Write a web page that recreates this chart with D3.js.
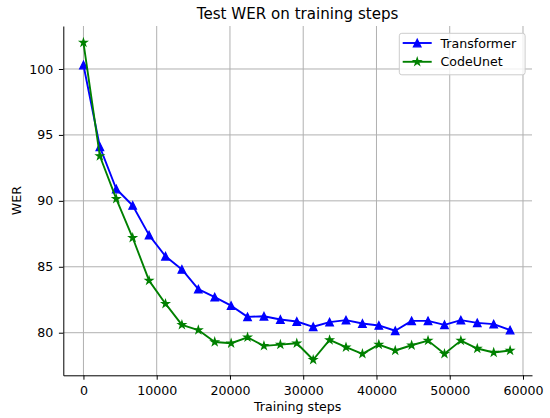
<!DOCTYPE html>
<html>
<head>
<meta charset="utf-8">
<script src="https://cdn.jsdelivr.net/npm/d3@7"></script>
<style>
  body { margin: 0; background: #fff; }
  svg { display: block; font-family: "DejaVu Sans", sans-serif; }
</style>
</head>
<body>
<div id="chart"></div>
<script>
// training steps (x) and WER readings per model
const steps = [0, 2240, 4480, 6720, 8960, 11200, 13440, 15680, 17920, 20160, 22400, 24640, 26880, 29120,
  31360, 33600, 35840, 38080, 40320, 42560, 44800, 47040, 49280, 51520, 53760, 56000, 58240];
const transformer = [100.3, 94.1, 90.9, 89.65, 87.4, 85.8, 84.8, 83.3, 82.7, 82.05, 81.2, 81.25, 81.0, 80.85,
  80.45, 80.8, 80.95, 80.7, 80.55, 80.15, 80.9, 80.9, 80.6, 80.95, 80.75, 80.65, 80.2];
const codeUnet = [102.0, 93.4, 90.15, 87.2, 83.95, 82.2, 80.6, 80.2, 79.3, 79.2, 79.65, 79.0, 79.1, 79.2,
  77.95, 79.45, 78.9, 78.4, 79.1, 78.65, 79.05, 79.4, 78.4, 79.4, 78.8, 78.5, 78.65];
const seriesNames = ['Transformer', 'CodeUnet'];
const xTicks = [0, 10000, 20000, 30000, 40000, 50000, 60000];
const yTicks = [80, 85, 90, 95, 100];

const W = 550, H = 418;
const plot = { left: 63.3, right: 532, top: 26, bottom: 375.3 };

const svg = d3.select('#chart').append('svg')
  .attr('width', W)
  .attr('height', H);

// --- Scales ---
const x = d3.scaleLinear().domain([-2750, 61230]).range([plot.left, plot.right]);
const y = d3.scaleLinear().domain([76.77, 103.26]).range([plot.bottom, plot.top]);

// --- Gridlines ---
const grid = svg.append('g').attr('stroke', '#b0b0b0').attr('stroke-width', 1);
grid.selectAll('.vg').data(xTicks).enter().append('line')
  .attr('x1', d => x(d)).attr('x2', d => x(d))
  .attr('y1', plot.top).attr('y2', plot.bottom);
grid.selectAll('.hg').data(yTicks).enter().append('line')
  .attr('x1', plot.left).attr('x2', plot.right)
  .attr('y1', d => y(d)).attr('y2', d => y(d));

// --- Axes ---
const xAxis = svg.append('g')
  .attr('transform', `translate(0,${plot.bottom})`)
  .call(d3.axisBottom(x).tickValues(xTicks).tickSize(4.4).tickSizeOuter(0).tickPadding(6.3).tickFormat(d3.format('d')));
const yAxis = svg.append('g')
  .attr('transform', `translate(${plot.left},0)`)
  .call(d3.axisLeft(y).tickValues(yTicks).tickSize(4.4).tickSizeOuter(0).tickPadding(5.6));

[xAxis, yAxis].forEach(a => {
  a.attr('font-family', null).attr('font-size', null);
  a.selectAll('path, line').attr('stroke', '#000').attr('stroke-width', 1);
  a.selectAll('text').attr('fill', '#000').style('font-size', '12.6px');
});

// --- Markers ---
const r = 3.78;
function trianglePath(s) {
  return `M0,${-s}L${-s},${s}L${s},${s}Z`;
}
function starPath(s) {
  const inner = s * 0.381966;
  let p = '';
  for (let i = 0; i < 10; i++) {
    const rad = i % 2 === 0 ? s : inner;
    const a = -Math.PI / 2 + i * Math.PI / 5;
    p += (i === 0 ? 'M' : 'L') + (rad * Math.cos(a)).toFixed(2) + ',' + (rad * Math.sin(a)).toFixed(2);
  }
  return p + 'Z';
}

const series = [
  { name: seriesNames[0], values: transformer, color: '#0000ff', marker: trianglePath(r) },
  { name: seriesNames[1], values: codeUnet, color: '#008000', marker: starPath(r) },
];

const line = d3.line()
  .x((d, i) => x(steps[i]))
  .y(d => y(d));

series.forEach(s => {
  const g = svg.append('g');
  g.append('path')
    .datum(s.values)
    .attr('fill', 'none')
    .attr('stroke', s.color)
    .attr('stroke-width', 1.89)
    .attr('stroke-linejoin', 'round')
    .attr('d', line);
  g.selectAll('.m').data(s.values).enter().append('path')
    .attr('transform', (d, i) => `translate(${x(steps[i])},${y(d)})`)
    .attr('d', s.marker)
    .attr('fill', s.color)
    .attr('stroke', s.color)
    .attr('stroke-width', 1.26)
    .attr('stroke-linejoin', 'miter');
});

// --- Title & labels ---
svg.append('text')
  .attr('x', (plot.left + plot.right) / 2).attr('y', 18.5)
  .attr('text-anchor', 'middle')
  .style('font-size', '15.1px')
  .text('Test WER on training steps');

svg.append('text')
  .attr('x', (plot.left + plot.right) / 2).attr('y', 411)
  .attr('text-anchor', 'middle')
  .style('font-size', '12.6px')
  .text('Training steps');

svg.append('text')
  .attr('transform', `translate(20.7,${(plot.top + plot.bottom) / 2}) rotate(-90)`)
  .attr('text-anchor', 'middle')
  .style('font-size', '12.6px')
  .text('WER');

// --- Legend ---
const legend = svg.append('g');
legend.append('rect')
  .attr('x', 399.3).attr('y', 33.3)
  .attr('width', 125.8).attr('height', 41.5)
  .attr('rx', 2.5)
  .attr('fill', '#fff').attr('fill-opacity', 0.8)
  .attr('stroke', '#cccccc').attr('stroke-width', 1);

series.forEach((s, i) => {
  const cy = 43 + i * 18.8;
  legend.append('line')
    .attr('x1', 402.7).attr('x2', 431.7)
    .attr('y1', cy).attr('y2', cy)
    .attr('stroke', s.color).attr('stroke-width', 1.89);
  legend.append('path')
    .attr('transform', `translate(417.2,${cy})`)
    .attr('d', s.marker)
    .attr('fill', s.color)
    .attr('stroke', s.color)
    .attr('stroke-width', 1.26);
  legend.append('text')
    .attr('x', 440.5).attr('y', cy + 4.6)
    .style('font-size', '12.6px')
    .text(s.name);
});
</script>
</body>
</html>
